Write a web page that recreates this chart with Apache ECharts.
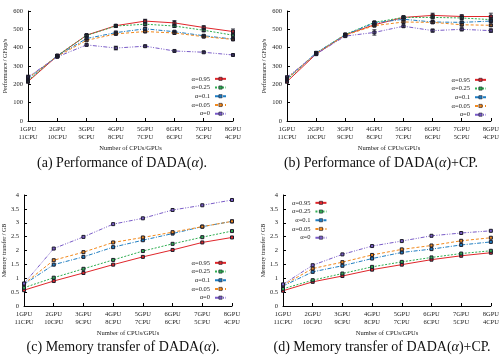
<!DOCTYPE html>
<html>
<head>
<meta charset="utf-8">
<script src="https://cdn.jsdelivr.net/npm/echarts@6/dist/echarts.min.js"></script>
<style>
  html, body { margin: 0; padding: 0; background: #fff; }
  #chart { width: 502px; height: 359px; }
</style>
</head>
<body>
<div id="chart"></div>
<script>
const cats = ['1GPU\n11CPU', '2GPU\n10CPU', '3GPU\n9CPU', '4GPU\n8CPU', '5GPU\n7CPU', '6GPU\n6CPU', '7GPU\n5CPU', '8GPU\n4CPU'];
const alphas = ['α=0.95', 'α=0.25', 'α=0.1', 'α=0.05', 'α=0'];

// (a) performance of DADA(alpha), GFlop/s, one row per alpha
const perfA = [
  [215, 355, 468, 520, 545, 535, 510, 488],
  [220, 357, 467, 518, 528, 518, 495, 468],
  [230, 355, 450, 482, 503, 487, 465, 447],
  [235, 353, 440, 475, 488, 480, 460, 445],
  [240, 350, 415, 398, 408, 382, 375, 360]
];
const errA = [
  [8, 5, 5, 5, 10, 13, 10, 14],
  [6, 5, 5, 5, 8, 8, 8, 10],
  [10, 5, 5, 8, 8, 5, 5, 5],
  [6, 4, 4, 5, 5, 5, 5, 5],
  [10, 4, 5, 10, 5, 4, 4, 4]
];
// (b) performance of DADA(alpha)+CP
const perfB = [
  [215, 365, 470, 525, 565, 576, 570, 570],
  [225, 370, 472, 538, 565, 565, 562, 553],
  [230, 372, 470, 535, 555, 540, 538, 545],
  [232, 368, 468, 520, 540, 538, 525, 522],
  [238, 365, 463, 483, 517, 493, 500, 493]
];
const errB = [
  [8, 5, 5, 5, 8, 12, 10, 18],
  [6, 5, 5, 5, 6, 8, 8, 10],
  [8, 5, 5, 6, 6, 6, 6, 8],
  [6, 4, 4, 5, 5, 5, 5, 6],
  [8, 4, 5, 15, 6, 8, 8, 10]
];
// (c) memory transfer of DADA(alpha), GB
const memC = [
  [0.57, 0.90, 1.19, 1.49, 1.77, 2.02, 2.29, 2.47],
  [0.66, 1.02, 1.34, 1.66, 1.98, 2.24, 2.48, 2.70],
  [0.78, 1.49, 1.77, 2.12, 2.37, 2.61, 2.86, 3.05],
  [0.80, 1.65, 1.94, 2.29, 2.47, 2.66, 2.86, 3.05],
  [0.81, 2.07, 2.49, 2.95, 3.16, 3.46, 3.63, 3.82]
];
// (d) memory transfer of DADA(alpha)+CP
const memD = [
  [0.55, 0.87, 1.08, 1.31, 1.49, 1.67, 1.81, 1.92],
  [0.62, 0.93, 1.17, 1.41, 1.59, 1.75, 1.89, 1.99],
  [0.72, 1.23, 1.45, 1.71, 1.93, 2.05, 2.20, 2.31],
  [0.75, 1.35, 1.58, 1.84, 2.04, 2.18, 2.35, 2.46],
  [0.78, 1.47, 1.86, 2.16, 2.34, 2.53, 2.63, 2.71]
];

const colors = ['#e0262b', '#2fae52', '#1f7ec2', '#f28a1e', '#7a5cc8'];
const dashes = ['solid', [2, 1.5], [4, 1.5, 1, 1.5], [3, 2], [4, 1.5, 1, 1.5, 1, 1.5]];
const serif = 'Liberation Serif';

const grids = [
  { left: 28, top: 11, width: 205, height: 110 },
  { left: 287, top: 11, width: 204, height: 110 },
  { left: 23, top: 195, width: 209, height: 111 },
  { left: 283, top: 195, width: 208, height: 111 }
];

function xAx(i) {
  return {
    type: 'category', gridIndex: i, data: cats, boundaryGap: false,
    name: 'Number of CPUs/GPUs', nameLocation: 'middle', nameGap: 24,
    nameTextStyle: { fontFamily: serif, fontSize: 6.5, color: '#222' },
    axisLine: { lineStyle: { color: '#000', width: 1 } },
    axisTick: { inside: true, length: 3, lineStyle: { color: '#000' } },
    axisLabel: { interval: 0, fontFamily: serif, fontSize: 6.5, color: '#222', lineHeight: 8.5, margin: 4 },
    splitLine: { show: false }
  };
}
function yAx(i, name, max, interval, gap) {
  return {
    type: 'value', gridIndex: i, min: 0, max: max, interval: interval,
    name: name, nameLocation: 'middle', nameGap: gap,
    nameTextStyle: { fontFamily: serif, fontSize: 6, color: '#222' },
    axisLine: { show: true, lineStyle: { color: '#000', width: 1 } },
    axisTick: { show: true, inside: true, length: 3, lineStyle: { color: '#000' } },
    axisLabel: { fontFamily: serif, fontSize: 6.5, color: '#222', margin: 5 },
    splitLine: { show: false }
  };
}

const series = [];
const panels = [perfA, perfB, memC, memD];
panels.forEach((rows, p) => {
  rows.forEach((vals, k) => {
    series.push({
      type: 'line', name: alphas[k], xAxisIndex: p, yAxisIndex: p,
      data: vals, symbol: 'rect', symbolSize: 3, z: 3 + k,
      lineStyle: { color: colors[k], width: 1, type: dashes[k] },
      itemStyle: { color: colors[k], borderColor: '#1c1c2a', borderWidth: 1 },
      emphasis: { disabled: true }
    });
  });
});

// error bars for the performance panels
[[perfA, errA], [perfB, errB]].forEach(([rows, errs], p) => {
  rows.forEach((vals, k) => {
    series.push({
      type: 'custom', xAxisIndex: p, yAxisIndex: p, z: 10,
      data: vals.map((v, j) => [j, v - errs[k][j], v + errs[k][j]]),
      renderItem: function (params, api) {
        const lo = api.coord([api.value(0), api.value(1)]);
        const hi = api.coord([api.value(0), api.value(2)]);
        const w = 2;
        const st = { stroke: '#1c1c2a', lineWidth: 0.8 };
        return {
          type: 'group', children: [
            { type: 'line', shape: { x1: lo[0], y1: lo[1], x2: hi[0], y2: hi[1] }, style: st },
            { type: 'line', shape: { x1: lo[0] - w, y1: lo[1], x2: lo[0] + w, y2: lo[1] }, style: st },
            { type: 'line', shape: { x1: hi[0] - w, y1: hi[1], x2: hi[0] + w, y2: hi[1] }, style: st }
          ]
        };
      }
    });
  });
});

function legend(pos) {
  return Object.assign({
    orient: 'vertical', align: 'right', data: alphas,
    itemWidth: 11, itemHeight: 4, itemGap: 1, padding: 0,
    selectedMode: false,
    itemStyle: { borderWidth: 0.6 },
    textStyle: { fontFamily: serif, fontSize: 6.5, color: '#222', lineHeight: 7.7, padding: 0 }
  }, pos);
}

const capStyle = {
  fontFamily: serif, fontSize: 14, fontWeight: 'normal', color: '#111',
  rich: { i: { fontFamily: serif, fontStyle: 'italic', fontWeight: 'normal', fontSize: 14, color: '#111' } }
};

const option = {
  animation: false,
  backgroundColor: '#fff',
  title: [
    { text: '(a) Performance of DADA({i|α}).', left: 122, top: 156, textAlign: 'center', textStyle: capStyle, padding: 0 },
    { text: '(b) Performance of DADA({i|α})+CP.', left: 381, top: 156, textAlign: 'center', textStyle: capStyle, padding: 0 },
    { text: '(c) Memory transfer of DADA({i|α}).', left: 123, top: 340, textAlign: 'center', textStyle: capStyle, padding: 0 },
    { text: '(d) Memory transfer of DADA({i|α})+CP.', left: 382, top: 340, textAlign: 'center', textStyle: capStyle, padding: 0 }
  ],
  legend: [
    legend({ right: 275, top: 75 }),
    legend({ right: 15, top: 76 }),
    legend({ right: 275, top: 259 }),
    legend({ left: 292, top: 199 })
  ],
  grid: grids,
  xAxis: [xAx(0), xAx(1), xAx(2), xAx(3)],
  yAxis: [
    yAx(0, 'Performance / GFlop/s', 600, 100, 20),
    yAx(1, 'Performance / GFlop/s', 600, 100, 20),
    yAx(2, 'Memory transfer / GB', 4, 0.5, 15),
    yAx(3, 'Memory transfer / GB', 4, 0.5, 15)
  ],
  series: series
};

echarts.init(document.getElementById('chart')).setOption(option);
</script>
</body>
</html>
